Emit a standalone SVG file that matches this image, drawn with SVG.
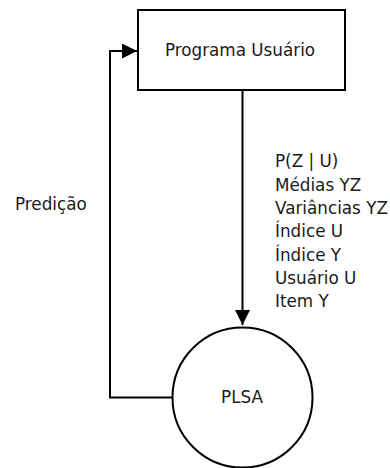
<svg xmlns="http://www.w3.org/2000/svg" width="390" height="468" viewBox="0 0 390 468">
<style>
.shape{fill:#fff;stroke:#000;stroke-width:2}
.line{fill:none;stroke:#000;stroke-width:2}
text{font-family:"DejaVu Sans",sans-serif;font-size:16.8px;fill:#1a1a1a}
</style>
<defs>
<marker id="arr" viewBox="0 0 10 10" refX="10" refY="5" markerWidth="7.5" markerHeight="7.5" markerUnits="strokeWidth" orient="auto">
<path d="M0,0 L10,5 L0,10 z" fill="#000"/>
</marker>
</defs>
<rect width="390" height="468" fill="#fff"/>
<g id="connectors">
<path class="line" d="M242.5,90 V325" marker-end="url(#arr)"/>
<path class="line" d="M172,397.5 H110 V51 H137" marker-end="url(#arr)"/>
</g>
<g id="programa">
<rect class="shape" x="138" y="10" width="207" height="80"/>
<text x="240" y="56" text-anchor="middle">Programa Usuário</text>
</g>
<g id="plsa">
<circle class="shape" cx="242.5" cy="397.5" r="70"/>
<text x="242" y="403" text-anchor="middle">PLSA</text>
</g>
<g id="labels">
<text x="15" y="210">Predição</text>
<text x="275" y="167">P(Z | U)</text>
<text x="275" y="190.5">Médias YZ</text>
<text x="275" y="214">Variâncias YZ</text>
<text x="275" y="237">Índice U</text>
<text x="275" y="260.5">Índice Y</text>
<text x="275" y="284">Usuário U</text>
<text x="275" y="307">Item Y</text>
</g>
</svg>
